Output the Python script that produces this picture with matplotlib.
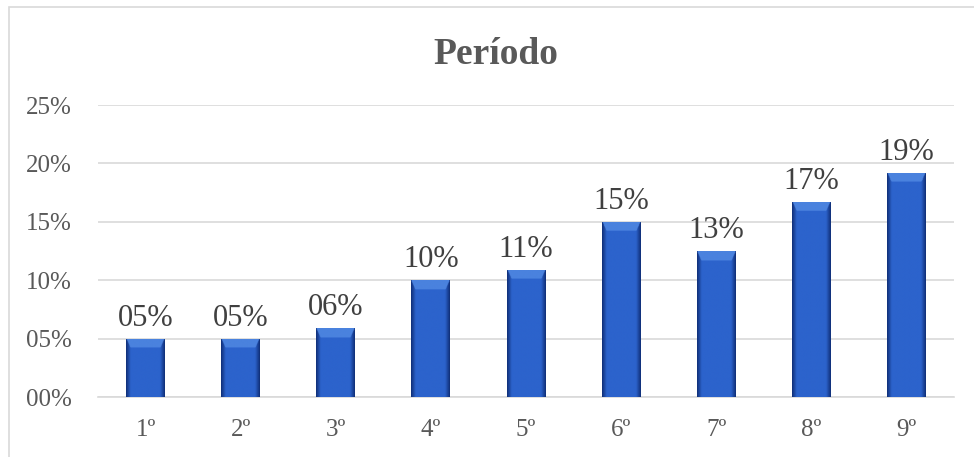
import numpy as np
import matplotlib.pyplot as plt
from matplotlib.colors import to_rgb
from matplotlib.patches import Rectangle

categories = ['1º', '2º', '3º', '4º', '5º', '6º', '7º', '8º', '9º']
values = [5.0, 5.0, 5.9, 10.0, 10.9, 15.0, 12.5, 16.7, 19.2]
yticks = [0, 5, 10, 15, 20, 25]
ytick_labels = ['00%', '05%', '10%', '15%', '20%', '25%']

plt.rcParams['font.family'] = ['Liberation Serif', 'DejaVu Serif']
grey = '#595959'

fig = plt.figure(figsize=(9.74, 4.57), dpi=100)
ax = fig.add_axes([98 / 974, 1 - 397 / 457, (954 - 98) / 974, (397 - 105) / 457])

# chart border (only left/top visible in the original crop)
fig.patches.append(Rectangle((9 / 974, -0.1), 1.2, 1 - 7 / 457 + 0.1,
                             transform=fig.transFigure, fill=False,
                             edgecolor='#d9d9d9', linewidth=1.2))

x = np.arange(len(categories))
bars = ax.bar(x, values, width=0.41, color='#2b5fc6', edgecolor='none', zorder=2)

# bevelled gradient fill for each bar
dark = np.array(to_rgb('#10307a'))
mid = np.array(to_rgb('#2c63cc'))
light = np.array(to_rgb('#4a82de'))
nx, ny = 60, 400
u = np.linspace(0, 1, nx)
edge_px = 0.12
prof = np.clip(np.minimum(u, 1 - u) / edge_px, 0, 1)
for b in bars:
    x0, w, h = b.get_x(), b.get_width(), b.get_height()
    img = np.zeros((ny, nx, 3))
    img[:] = dark + (mid - dark) * prof[None, :, None]
    # trapezoid highlight at the top (bevel)
    depth = 0.8
    yy = np.linspace(h, 0, ny)
    dtop = (h - yy)[:, None] / depth  # 0..1 inside the bevel
    dside = np.minimum(u, 1 - u)[None, :] / edge_px
    top = (dtop < 1) & (dside > dtop * 0.9)
    img[top] = light
    im = ax.imshow(img, extent=(x0, x0 + w, 0, h), aspect='auto', zorder=3,
                   interpolation='bilinear')
    im.set_clip_path(b)

for xi, v in zip(x, values):
    ax.text(xi, v + 0.5, '%02d%%' % int(v + 0.5), ha='center', va='bottom',
            fontsize=22, color='#404040', zorder=4)

ax.set_xlim(-0.5, len(categories) - 0.5)
ax.set_ylim(0, 25)
ax.set_yticks(yticks)
ax.set_yticklabels(ytick_labels)
ax.set_xticks(x)
ax.set_xticklabels(categories)
ax.tick_params(axis='both', length=0, labelsize=18, colors=grey)
ax.tick_params(axis='y', pad=19)
ax.tick_params(axis='x', pad=16)
ax.grid(axis='y', color='#d9d9d9', linewidth=1.2, zorder=0)
for s in ['top', 'right', 'left']:
    ax.spines[s].set_visible(False)
ax.spines['bottom'].set_color('#d9d9d9')
ax.spines['bottom'].set_linewidth(1.2)

fig.text(496 / 974, 1 - 54 / 457, 'Período', ha='center', va='center',
         fontsize=27, fontweight='bold', color=grey)

fig.savefig('out.png', dpi=100)
